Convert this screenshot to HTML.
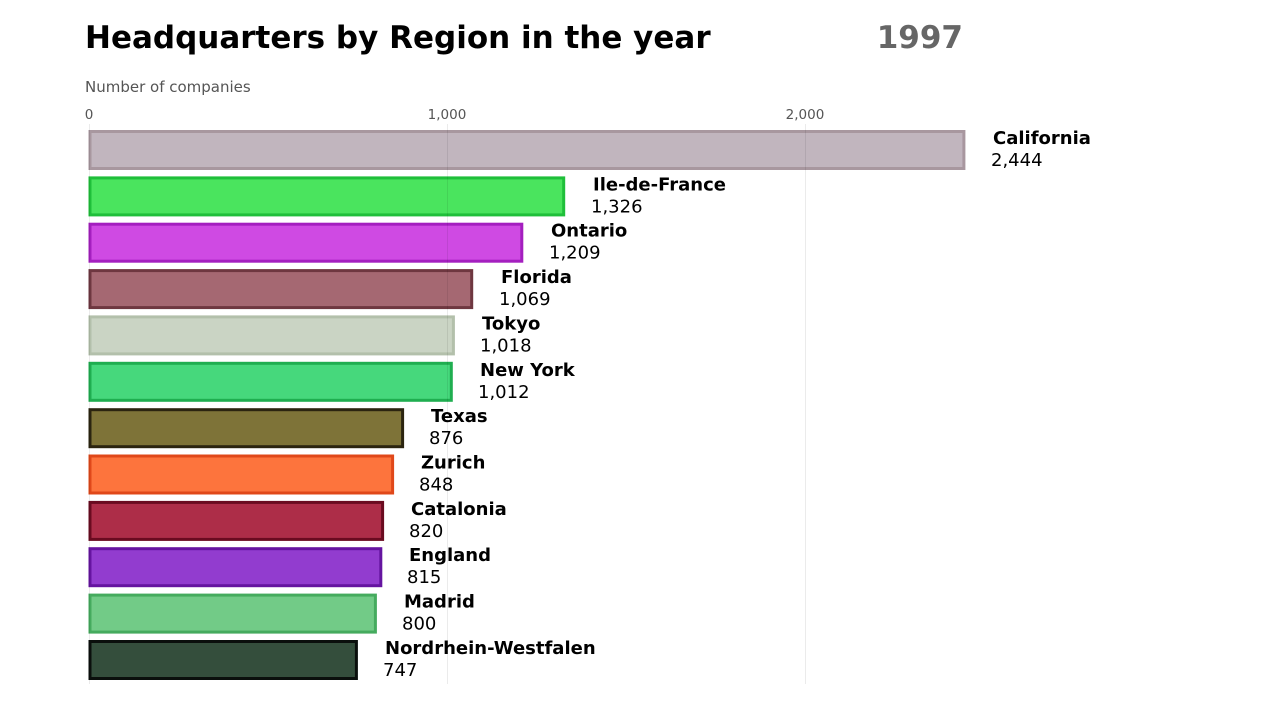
<!DOCTYPE html>
<html><head><meta charset="utf-8"><style>
html,body{margin:0;padding:0;background:#fff;}
svg{display:block;font-family:"DejaVu Sans","Liberation Sans",sans-serif;}
</style></head><body>
<svg width="1280" height="720" viewBox="0 0 1280 720" xmlns="http://www.w3.org/2000/svg">
<text x="85" y="48" font-size="31" font-weight="bold" fill="#000">Headquarters by Region in the year</text>
<text x="963" y="48" font-size="31" font-weight="bold" fill="#666" text-anchor="end">1997</text>
<text x="85" y="92" font-size="15" fill="#555">Number of companies</text>
<g font-size="13.5" fill="#555" text-anchor="middle">
<text x="89" y="119">0</text><text x="447" y="119">1,000</text><text x="805" y="119">2,000</text>
</g>
<g stroke-width="3">
<rect x="90" y="131.5" width="873.9" height="37" fill="#c1b5be" stroke="#a8979f"/>
<rect x="90" y="177.9" width="473.7" height="37" fill="#4ae45e" stroke="#1fbf3a"/>
<rect x="90" y="224.2" width="431.8" height="37" fill="#cf4ae3" stroke="#a41fbf"/>
<rect x="90" y="270.6" width="381.7" height="37" fill="#a56872" stroke="#6e3740"/>
<rect x="90" y="316.9" width="363.4" height="37" fill="#cad4c4" stroke="#b3c0ab"/>
<rect x="90" y="363.3" width="361.3" height="37" fill="#46d87c" stroke="#1fae50"/>
<rect x="90" y="409.7" width="312.6" height="37" fill="#7e7338" stroke="#2b2410"/>
<rect x="90" y="456" width="302.6" height="37" fill="#fd743d" stroke="#e0481a"/>
<rect x="90" y="502.4" width="292.6" height="37" fill="#ad2d48" stroke="#6a0b20"/>
<rect x="90" y="548.7" width="290.8" height="37" fill="#923ccf" stroke="#6514a0"/>
<rect x="90" y="595.1" width="285.4" height="37" fill="#72cb87" stroke="#45ab5e"/>
<rect x="90" y="641.5" width="266.4" height="37" fill="#344e3c" stroke="#0a0f0c"/>
</g>
<g stroke="#000" stroke-opacity="0.08" stroke-width="1">
<line x1="89.5" y1="124" x2="89.5" y2="684"/>
<line x1="447.5" y1="124" x2="447.5" y2="684"/>
<line x1="805.5" y1="124" x2="805.5" y2="684"/>
</g>
<g font-size="18" fill="#000">
<g font-weight="bold">
<text x="993" y="144">California</text>
<text x="593" y="190.4">Ile-de-France</text>
<text x="551" y="236.7">Ontario</text>
<text x="501" y="283.1">Florida</text>
<text x="482" y="329.4">Tokyo</text>
<text x="480" y="375.8">New York</text>
<text x="431" y="422.2">Texas</text>
<text x="421" y="468.5">Zurich</text>
<text x="411" y="514.9">Catalonia</text>
<text x="409" y="561.2">England</text>
<text x="404" y="607.6">Madrid</text>
<text x="385" y="654">Nordrhein-Westfalen</text>
</g>
<text x="991" y="166">2,444</text>
<text x="591" y="212.4">1,326</text>
<text x="549" y="258.7">1,209</text>
<text x="499" y="305.1">1,069</text>
<text x="480" y="351.4">1,018</text>
<text x="478" y="397.8">1,012</text>
<text x="429" y="444.2">876</text>
<text x="419" y="490.5">848</text>
<text x="409" y="536.9">820</text>
<text x="407" y="583.2">815</text>
<text x="402" y="629.6">800</text>
<text x="383" y="676">747</text>
</g>
</svg>
</body></html>
